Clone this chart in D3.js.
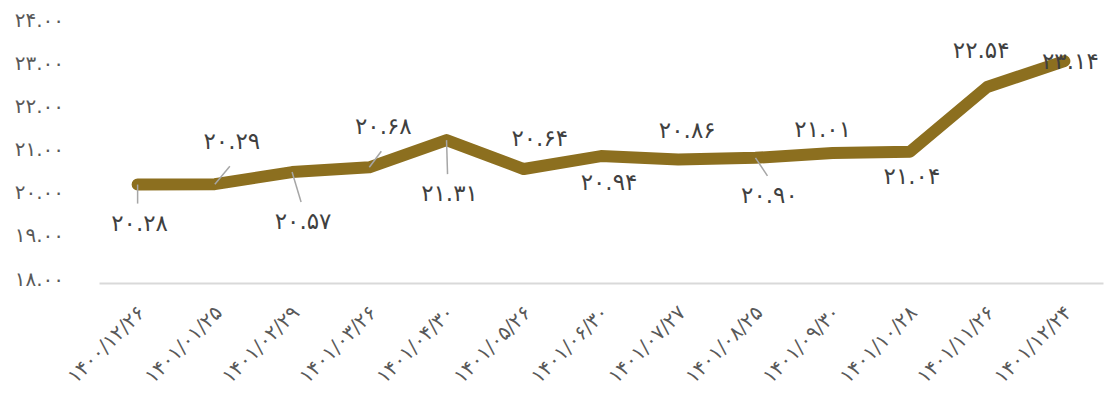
<!DOCTYPE html>
<html>
<head>
<meta charset="utf-8">
<script src="https://cdn.jsdelivr.net/npm/d3@7"></script>
<style>
  html, body { margin: 0; padding: 0; background: #fff; }
  svg { display: block; font-family: "DejaVu Sans", sans-serif; }
</style>
</head>
<body>
<svg id="chart" width="1104" height="395"></svg>
<script>
// Dates (Solar Hijri) and values of the series
const dates = [
  "1400/12/26", "1401/01/25", "1401/02/29", "1401/03/26", "1401/04/30",
  "1401/05/26", "1401/06/30", "1401/07/27", "1401/08/25", "1401/09/30",
  "1401/10/28", "1401/11/26", "1401/12/24"
];
const values = [20.28, 20.29, 20.57, 20.68, 21.31, 20.64, 20.94, 20.86, 20.90, 21.01, 21.04, 22.54, 23.14];
const yTicks = [18, 19, 20, 21, 22, 23, 24];

// Placement of each value label relative to its point, and whether it gets a leader line
const labelDx = [2, 17, 11, 14, 3, 16, 8, 9, 14, -10, 2, -6, 6];
const labelDy = [38, -43, 49, -41, 53, -31, 26, -30, 37, -24, 24, -37, 0];
const hasLeader = [true, true, true, true, true, false, false, false, true, false, false, false, false];

// Convert Western digits to Persian digits
const fa = s => String(s).replace(/[0-9]/g, d => "۰۱۲۳۴۵۶۷۸۹"[+d]);

const svg = d3.select("#chart");
const margin = { left: 99, right: 1, top: 24, bottom: 112 };
const W = 1104, H = 395;

const x = d3.scalePoint()
  .domain(dates)
  .range([margin.left, W - margin.right])
  .padding(0.5);

const y = d3.scaleLinear()
  .domain([18, 24])
  .range([H - margin.bottom, margin.top]);

// Y axis labels (no line, no ticks)
const yAxis = d3.axisLeft(y)
  .tickValues(yTicks)
  .tickSize(0)
  .tickPadding(0)
  .tickFormat(d => fa(d3.format(".2f")(d)));

const gy = svg.append("g")
  .attr("transform", `translate(64,0)`)
  .call(yAxis);
gy.select(".domain").remove();
gy.selectAll("text")
  .attr("fill", "#595959")
  .attr("font-size", 20)
  .attr("letter-spacing", 2)
  .attr("font-family", "DejaVu Sans, sans-serif")
  .attr("direction", "ltr")
  .attr("dy", "0.1em");

// X axis: baseline and rotated date labels
const xAxis = d3.axisBottom(x).tickSize(0).tickPadding(0).tickFormat(d => fa(d));
const gx = svg.append("g")
  .attr("transform", `translate(0,${y(18)})`)
  .call(xAxis);
gx.select(".domain")
  .attr("stroke", "#d9d9d9")
  .attr("stroke-width", 2);
gx.selectAll(".tick text")
  .attr("fill", "#595959")
  .attr("font-size", 20)
  .attr("letter-spacing", 3.5)
  .attr("font-family", "DejaVu Sans, sans-serif")
  .attr("direction", "ltr")
  .attr("text-anchor", "end")
  .attr("y", 0)
  .attr("dy", 0)
  .attr("transform", "translate(8,31) rotate(-45)");

// Series line
const line = d3.line()
  .x((d, i) => x(dates[i]))
  .y(d => y(d));

svg.append("path")
  .datum(values)
  .attr("fill", "none")
  .attr("stroke", "#8c6f1f")
  .attr("stroke-width", 12)
  .attr("stroke-linecap", "round")
  .attr("stroke-linejoin", "round")
  .attr("d", line);

// Leader lines
const leaders = svg.append("g");
values.forEach((v, i) => {
  if (!hasLeader[i]) return;
  const px = x(dates[i]), py = y(v);
  const lx = px + labelDx[i] - 2;
  const ly = py + labelDy[i] + (labelDy[i] > 0 ? -19 : 25);
  leaders.append("line")
    .attr("x1", px).attr("y1", py)
    .attr("x2", lx).attr("y2", ly)
    .attr("stroke", "#a6a6a6")
    .attr("stroke-width", 1.5);
});

// Value labels
svg.append("g")
  .selectAll("text")
  .data(values)
  .join("text")
  .attr("x", (d, i) => x(dates[i]) + labelDx[i])
  .attr("y", (d, i) => y(d) + labelDy[i])
  .attr("text-anchor", "middle")
  .attr("dominant-baseline", "central")
  .attr("direction", "ltr")
  .attr("fill", "#404040")
  .attr("font-size", 23)
  .attr("letter-spacing", 1.5)
  .text(d => fa(d3.format(".2f")(d)));
</script>
</body>
</html>
